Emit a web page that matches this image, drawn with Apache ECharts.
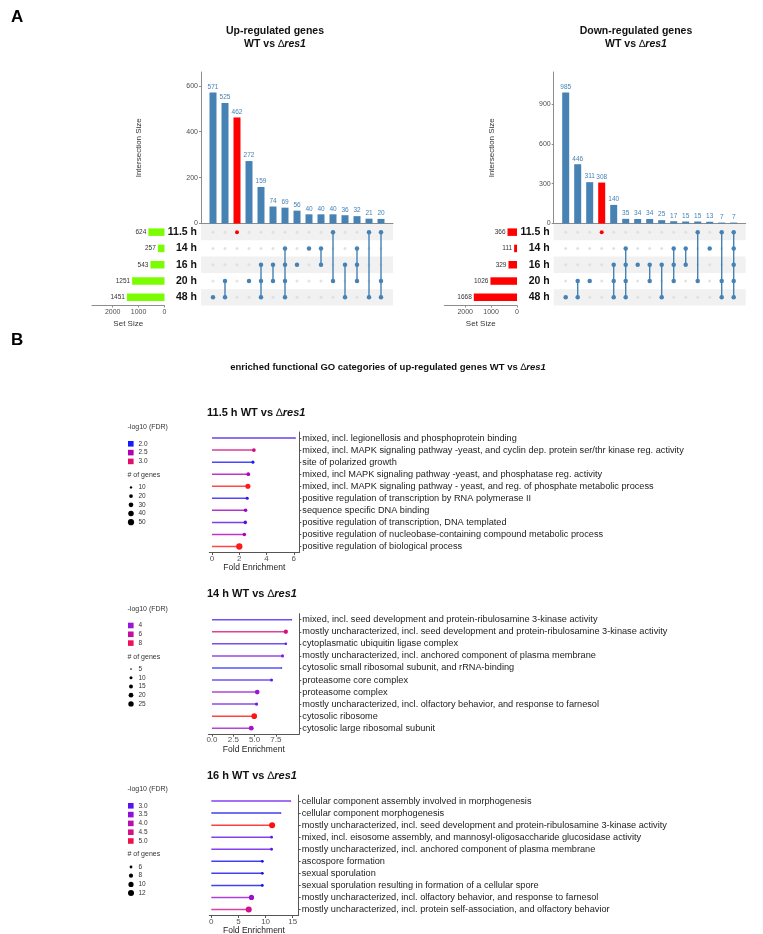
<!DOCTYPE html>
<html>
<head>
<meta charset="utf-8">
<script src="https://cdn.jsdelivr.net/npm/echarts@6/dist/echarts.min.js"></script>
<style>
  html, body { margin: 0; padding: 0; background: #fff; }
  #main { width: 763px; height: 934px; }
</style>
</head>
<body>
<div id="main"></div>
<script>
// ---------- data ----------
var setNames = ['11.5 h', '14 h', '16 h', '20 h', '48 h']

var upSetSizes = [624, 257, 543, 1251, 1451]
var upCounts = [571, 525, 462, 272, 159, 74, 69, 56, 40, 40, 40, 36, 32, 21, 20]
// which sets (index into setNames) make up each intersection column
var upMembers = [[4], [3, 4], [0], [3], [2, 3, 4], [2, 3], [1, 2, 3, 4], [2], [1], [1, 2], [0, 3], [2, 4], [1, 2, 3], [0, 4], [0, 3, 4]]
var upHighlight = 2

var downSetSizes = [366, 111, 329, 1026, 1668]
var downCounts = [985, 446, 311, 308, 140, 35, 34, 34, 25, 17, 15, 15, 13, 7, 7]
var downMembers = [[4], [3, 4], [3], [0], [2, 3, 4], [1, 2, 3, 4], [2], [2, 3], [2, 4], [1, 2, 3], [1, 2], [0, 3], [1], [0, 3, 4], [0, 1, 2, 3, 4]]
var downHighlight = 3

var go115Terms = [
  'mixed, incl. legionellosis and phosphoprotein binding',
  'mixed, incl. MAPK signaling pathway -yeast, and cyclin dep. protein ser/thr kinase reg. activity',
  'site of polarized growth',
  'mixed, incl MAPK signaling pathway -yeast, and phosphatase reg. activity',
  'mixed, incl. MAPK signaling pathway - yeast, and reg. of phosphate metabolic process',
  'positive regulation of transcription by RNA polymerase II',
  'sequence specific DNA binding',
  'positive regulation of transcription, DNA templated',
  'positive regulation of nucleobase-containing compound metabolic process',
  'positive regulation of biological process'
]
var go115Fold = [6.1, 3.07, 3.0, 2.66, 2.63, 2.58, 2.46, 2.44, 2.37, 2.0]
var go115Fdr = [2.15, 2.85, 2.0, 2.5, 3.2, 2.05, 2.45, 2.2, 2.5, 3.2]
var go115Genes = [5, 20, 14, 20, 35, 15, 18, 18, 18, 52]
var go115FdrTicks = [2.0, 2.5, 3.0]
var go115GeneTicks = [10, 20, 30, 40, 50]

var go14Terms = [
  'mixed, incl. seed development and protein-ribulosamine 3-kinase activity',
  'mostly uncharacterized, incl. seed development and protein-ribulosamine 3-kinase activity',
  'cytoplasmatic ubiquitin ligase complex',
  'mostly uncharacterized, incl. anchored component of plasma membrane',
  'cytosolic small ribosomal subunit, and rRNA-binding',
  'proteasome core complex',
  'proteasome complex',
  'mostly uncharacterized, incl. olfactory behavior, and response to farnesol',
  'cytosolic ribosome',
  'cytosolic large ribosomal subunit'
]
var go14Fold = [9.34, 8.67, 8.67, 8.28, 8.16, 6.99, 5.31, 5.23, 4.96, 4.61]
var go14Fdr = [3.0, 7.0, 3.0, 3.6, 2.6, 3.0, 4.0, 3.4, 8.8, 4.4]
var go14Genes = [3, 17, 8, 10, 5, 10, 20, 11, 27, 21]
var go14FdrTicks = [4, 6, 8]
var go14GeneTicks = [5, 10, 15, 20, 25]

var go16Terms = [
  'cellular component assembly involved in morphogenesis',
  'cellular component morphogenesis',
  'mostly uncharacterized, incl. seed development and protein-ribulosamine 3-kinase activity',
  'mixed, incl. eisosome assembly, and mannosyl-oligosaccharide glucosidase activity',
  'mostly uncharacterized, incl. anchored component of plasma membrane',
  'ascospore formation',
  'sexual sporulation',
  'sexual sporulation resulting in formation of a cellular spore',
  'mostly uncharacterized, incl. olfactory behavior, and response to farnesol',
  'mostly uncharacterized, incl. protein self-association, and olfactory behavior'
]
var go16Fold = [14.6, 12.8, 11.2, 11.1, 11.1, 9.4, 9.4, 9.4, 7.4, 6.9]
var go16Fdr = [3.1, 2.7, 5.3, 3.1, 3.1, 2.7, 2.7, 2.7, 3.6, 4.4]
var go16Genes = [3, 3, 12, 6, 6, 6, 6, 6, 10, 12]
var go16FdrTicks = [3.0, 3.5, 4.0, 4.5, 5.0]
var go16GeneTicks = [6, 8, 10, 12]

// ---------- styling helpers ----------
var FONT = '"Liberation Sans", Arial, sans-serif'
var STEEL = '#4682b4'
var AXIS = '#8c8c8c'

function hexToRgb(h) {
  return [parseInt(h.substr(1, 2), 16), parseInt(h.substr(3, 2), 16), parseInt(h.substr(5, 2), 16)]
}
// colour ramp for -log10(FDR)
function fdrColor(stops, v) {
  if (v <= stops[0][0]) return stops[0][1]
  for (var i = 1; i < stops.length; i++) {
    if (v <= stops[i][0]) {
      var t = (v - stops[i - 1][0]) / (stops[i][0] - stops[i - 1][0])
      var a = hexToRgb(stops[i - 1][1]), b = hexToRgb(stops[i][1])
      return 'rgb(' + [0, 1, 2].map(function (k) { return Math.round(a[k] + (b[k] - a[k]) * t) }).join(',') + ')'
    }
  }
  return stops[stops.length - 1][1]
}
// dot size for # of genes (area scale)
function geneSize(r, n) {
  var a = r.d0 * r.d0 + (r.d1 * r.d1 - r.d0 * r.d0) * (n - r.n0) / (r.n1 - r.n0)
  return Math.sqrt(Math.max(a, 1.6))
}
function plain(v) { return String(v) }

var grids = [], xAxes = [], yAxes = [], series = [], graphics = []

function addUpset(cfg) {
  var gi = grids.length
  // intersection bars
  grids.push({ left: cfg.left, top: 72, width: 192, height: 151.5, outerBoundsMode: 'none' })
  xAxes.push({
    gridIndex: gi, type: 'value', min: 0, max: 16,
    axisLine: { show: true, onZero: false, lineStyle: { color: AXIS } },
    axisTick: { show: false }, axisLabel: { show: false }, splitLine: { show: false }
  })
  yAxes.push({
    gridIndex: gi, type: 'value', min: 0, max: cfg.yMax, interval: cfg.yInterval,
    name: 'Intersection Size', nameLocation: 'middle', nameGap: 58,
    nameTextStyle: { fontSize: 8, color: '#333', fontFamily: FONT },
    axisLine: { show: true, onZero: false, lineStyle: { color: AXIS } },
    axisTick: { show: true, length: 2, lineStyle: { color: AXIS } },
    axisLabel: { fontSize: 7, color: '#4d4d4d', margin: 3, fontFamily: FONT, showMaxLabel: false, formatter: plain },
    splitLine: { show: false }
  })
  series.push({
    type: 'bar', xAxisIndex: gi, yAxisIndex: gi, barWidth: 7,
    data: cfg.counts.map(function (v, i) {
      return { value: [i + 1, v], itemStyle: { color: i === cfg.highlight ? '#ff0000' : STEEL } }
    }),
    label: {
      show: true, position: 'top', distance: 2, fontSize: 6.5, color: STEEL, fontFamily: FONT,
      formatter: function (p) { return p.value[1] }
    }
  })

  // membership matrix
  grids.push({ left: cfg.left, top: 224, width: 192, height: 81.5, outerBoundsMode: 'none' })
  xAxes.push({ gridIndex: gi + 1, type: 'value', min: 0, max: 16, show: false })
  yAxes.push({
    gridIndex: gi + 1, type: 'category', data: setNames, inverse: true,
    axisLine: { show: false }, axisTick: { show: false },
    axisLabel: { fontSize: 10.5, fontWeight: 'bold', color: '#111', margin: 4, fontFamily: FONT },
    splitArea: { show: true, areaStyle: { color: ['#f1f1f1', 'rgba(255,255,255,0)'] } }
  })
  var gray = [], blue = [], red = []
  cfg.members.forEach(function (m, c) {
    for (var s = 0; s < setNames.length; s++) {
      if (m.indexOf(s) < 0) gray.push([c + 1, s])
      else if (c === cfg.highlight) red.push([c + 1, s])
      else blue.push([c + 1, s])
    }
    if (m.length > 1) {
      series.push({
        type: 'line', xAxisIndex: gi + 1, yAxisIndex: gi + 1, symbol: 'none', z: 3,
        lineStyle: { color: STEEL, width: 1.4 },
        data: [[c + 1, Math.min.apply(null, m)], [c + 1, Math.max.apply(null, m)]]
      })
    }
  })
  series.push({ type: 'scatter', xAxisIndex: gi + 1, yAxisIndex: gi + 1, symbolSize: 3, z: 2, itemStyle: { color: '#dcdcdc' }, data: gray })
  series.push({ type: 'scatter', xAxisIndex: gi + 1, yAxisIndex: gi + 1, symbolSize: 4.5, z: 4, itemStyle: { color: STEEL, opacity: 1 }, data: blue })
  series.push({ type: 'scatter', xAxisIndex: gi + 1, yAxisIndex: gi + 1, symbolSize: 4, z: 4, itemStyle: { color: '#ff0000', opacity: 1 }, data: red })

  // set sizes
  grids.push({ left: cfg.sizeLeft, top: 224, width: 72.5, height: 81.5, outerBoundsMode: 'none' })
  xAxes.push({
    gridIndex: gi + 2, type: 'value', inverse: true, min: 0, max: 2800, interval: 1000,
    name: 'Set Size', nameLocation: 'middle', nameGap: 14,
    nameTextStyle: { fontSize: 8, color: '#333', fontFamily: FONT },
    axisLine: { show: true, onZero: false, lineStyle: { color: AXIS } },
    axisTick: { show: true, length: 2, lineStyle: { color: AXIS } },
    axisLabel: { fontSize: 7, color: '#4d4d4d', margin: 3, showMaxLabel: false, fontFamily: FONT, formatter: plain },
    splitLine: { show: false }
  })
  yAxes.push({ gridIndex: gi + 2, type: 'category', data: setNames, inverse: true, show: false })
  series.push({
    type: 'bar', xAxisIndex: gi + 2, yAxisIndex: gi + 2, barWidth: 7.5,
    itemStyle: { color: cfg.sizeColor }, data: cfg.sizes,
    label: { show: true, position: 'left', distance: 2, fontSize: 6.5, color: '#333', fontFamily: FONT }
  })
}

function txt(s, x, y, o) {
  var st = { text: String(s), fill: '#222', fontSize: 7, fontFamily: FONT, align: 'left', verticalAlign: 'middle' }
  for (var k in o) st[k] = o[k]
  return { type: 'text', x: x, y: y, style: st }
}

function addGo(cfg) {
  var gi = grids.length
  grids.push({ left: cfg.left, top: cfg.top, width: cfg.width, height: 120.5, outerBoundsMode: 'none' })
  xAxes.push({
    gridIndex: gi, type: 'value', min: cfg.min, max: cfg.max,
    name: 'Fold Enrichment', nameLocation: 'middle', nameGap: 11,
    nameTextStyle: { fontSize: 8.5, color: '#222', fontFamily: FONT },
    axisLine: { show: true, onZero: false, lineStyle: { color: '#555' } },
    axisTick: { show: true, length: 2.5, customValues: cfg.ticks, lineStyle: { color: '#555' } },
    axisLabel: { customValues: cfg.ticks, formatter: cfg.fmt, fontSize: 8, color: '#555', margin: 2, fontFamily: FONT },
    splitLine: { show: false }
  })
  yAxes.push({
    gridIndex: gi, type: 'category', position: 'right', inverse: true, data: cfg.terms,
    axisLine: { show: true, onZero: false, lineStyle: { color: '#555' } },
    axisTick: { show: true, length: 2, alignWithLabel: true, lineStyle: { color: '#555' } },
    axisLabel: { interval: 0, fontSize: 9.2, color: '#222', margin: 3, fontFamily: FONT },
    splitLine: { show: false }
  })
  series.push({
    type: 'bar', xAxisIndex: gi, yAxisIndex: gi, barWidth: 1.5,
    data: cfg.fold.map(function (v, i) {
      return { value: v, itemStyle: { color: fdrColor(cfg.stops, cfg.fdr[i]), opacity: 0.8 } }
    })
  })
  series.push({
    type: 'scatter', xAxisIndex: gi, yAxisIndex: gi, z: 4,
    data: cfg.fold.map(function (v, i) {
      return {
        value: [v, i],
        symbolSize: geneSize(cfg.size, cfg.genes[i]),
        itemStyle: { color: fdrColor(cfg.stops, cfg.fdr[i]), opacity: 1 }
      }
    })
  })

  // panel title
  graphics.push(txt('{b|' + cfg.label + ' WT vs }{d|\u2206}{i|res1}', 207, cfg.top - 19.5, {
    rich: {
      b: { fontSize: 11, fontWeight: 'bold', fontFamily: FONT, fill: '#111' },
      d: { fontSize: 11, fontFamily: FONT, fill: '#111' },
      i: { fontSize: 11, fontWeight: 'bold', fontStyle: 'italic', fontFamily: FONT, fill: '#111' }
    }
  }))

  // legends
  var y = cfg.legendTop
  graphics.push(txt('-log10 (FDR)', 127.5, y, { fill: '#333' }))
  var sy = y + 16.5
  cfg.fdrTicks.forEach(function (v, i) {
    graphics.push({ type: 'rect', shape: { x: 128, y: sy + i * 8.8 - 2.8, width: 5.6, height: 5.6 }, style: { fill: fdrColor(cfg.stops, v) } })
    graphics.push(txt(cfg.fdrFmt(v), 138.5, sy + i * 8.8, { fontSize: 6.5, fill: '#333' }))
  })
  var gy = sy + (cfg.fdrTicks.length - 1) * 8.8 + 13.5
  graphics.push(txt('# of genes', 127.5, gy, { fill: '#333' }))
  cfg.geneTicks.forEach(function (n, i) {
    var d = geneSize(cfg.size, n)
    graphics.push({ type: 'circle', shape: { cx: 131, cy: gy + 12.5 + i * 8.7, r: d / 2 }, style: { fill: '#000' } })
    graphics.push(txt(n, 138.5, gy + 12.5 + i * 8.7, { fontSize: 6.5, fill: '#333' }))
  })
}

addUpset({ left: 201, yMax: 660, yInterval: 200, counts: upCounts, members: upMembers, highlight: upHighlight, sizeLeft: 92, sizes: upSetSizes, sizeColor: '#7cfc00' })
addUpset({ left: 553.7, yMax: 1140, yInterval: 300, counts: downCounts, members: downMembers, highlight: downHighlight, sizeLeft: 444.5, sizes: downSetSizes, sizeColor: '#ff0000' })

addGo({
  label: '11.5 h', left: 209.3, top: 432, width: 90, min: -0.2, max: 6.4,
  ticks: [0, 2, 4, 6], fmt: function (v) { return String(v) },
  terms: go115Terms, fold: go115Fold, fdr: go115Fdr, genes: go115Genes,
  stops: [[2.0, '#1a1aff'], [2.5, '#b000b8'], [3.0, '#e0106a'], [3.2, '#ff1a1a']],
  size: { n0: 10, d0: 2.4, n1: 50, d1: 6.2 },
  legendTop: 427.3, fdrTicks: go115FdrTicks, geneTicks: go115GeneTicks,
  fdrFmt: function (v) { return v.toFixed(1) }
})
addGo({
  label: '14 h', left: 208.3, top: 613.7, width: 91, min: -0.43, max: 10.25,
  ticks: [0, 2.5, 5, 7.5], fmt: function (v) { return v.toFixed(1) },
  terms: go14Terms, fold: go14Fold, fdr: go14Fdr, genes: go14Genes,
  stops: [[2.5, '#2a2aff'], [4, '#9a18d4'], [6, '#c0109c'], [8, '#f0105a'], [8.8, '#ff1414']],
  size: { n0: 5, d0: 1.6, n1: 25, d1: 5.4 },
  legendTop: 609, fdrTicks: go14FdrTicks, geneTicks: go14GeneTicks,
  fdrFmt: function (v) { return String(v) }
})
addGo({
  label: '16 h', left: 209.3, top: 795, width: 89.4, min: -0.37, max: 16.1,
  ticks: [0, 5, 10, 15], fmt: function (v) { return String(v) },
  terms: go16Terms, fold: go16Fold, fdr: go16Fdr, genes: go16Genes,
  stops: [[2.7, '#1212ee'], [3.0, '#5a12f0'], [3.5, '#9010d8'], [4.0, '#b810b0'], [4.5, '#d81088'], [5.0, '#f01050'], [5.3, '#ff1010']],
  size: { n0: 6, d0: 2.8, n1: 12, d1: 6.0 },
  legendTop: 789.3, fdrTicks: go16FdrTicks, geneTicks: go16GeneTicks,
  fdrFmt: function (v) { return v.toFixed(1) }
})

// figure letters and headings
var headRich = {
  b: { fontSize: 10.5, fontWeight: 'bold', fontFamily: FONT, fill: '#111' },
  d: { fontSize: 10.5, fontFamily: FONT, fill: '#111' },
  i: { fontSize: 10.5, fontWeight: 'bold', fontStyle: 'italic', fontFamily: FONT, fill: '#111' }
}
graphics.push(txt('A', 11, 17, { fontSize: 17, fontWeight: 'bold', fill: '#000' }))
graphics.push(txt('B', 11, 340, { fontSize: 17, fontWeight: 'bold', fill: '#000' }))
graphics.push(txt('Up-regulated genes', 275, 31, { fontSize: 10.5, fontWeight: 'bold', fill: '#111', align: 'center' }))
graphics.push(txt('{b|WT vs }{d|\u2206}{i|res1}', 275, 44, { align: 'center', rich: headRich }))
graphics.push(txt('Down-regulated genes', 636, 31, { fontSize: 10.5, fontWeight: 'bold', fill: '#111', align: 'center' }))
graphics.push(txt('{b|WT vs }{d|\u2206}{i|res1}', 636, 44, { align: 'center', rich: headRich }))
graphics.push(txt('{b|enriched functional GO categories of up-regulated genes WT vs }{d|\u2206}{i|res1}', 388, 367, {
  align: 'center',
  rich: {
    b: { fontSize: 9.5, fontWeight: 'bold', fontFamily: FONT, fill: '#111' },
    d: { fontSize: 9.5, fontFamily: FONT, fill: '#111' },
    i: { fontSize: 9.5, fontWeight: 'bold', fontStyle: 'italic', fontFamily: FONT, fill: '#111' }
  }
}))

var chart = echarts.init(document.getElementById('main'))
chart.setOption({
  animation: false,
  backgroundColor: '#fff',
  grid: grids,
  xAxis: xAxes,
  yAxis: yAxes,
  series: series,
  graphic: graphics
})
</script>
</body>
</html>
